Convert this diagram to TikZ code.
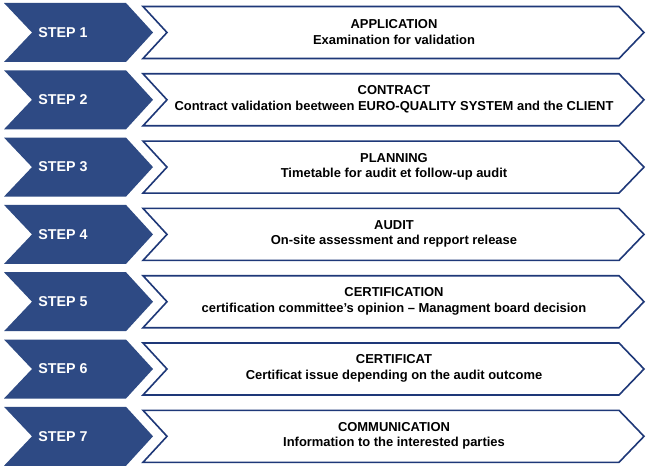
\documentclass[tikz,border=0pt]{standalone}
\usepackage{fontspec}
\setmainfont{Liberation Sans}
\definecolor{stepblue}{RGB}{46,74,132}
\definecolor{lineblue}{RGB}{30,56,120}
\tikzset{
  bluechev/.style={fill=stepblue,draw=none},
  whitechev/.style={fill=white,draw=lineblue,line width=1.6bp,line join=miter},
  steplabel/.style={text=white,font=\bfseries\fontsize{14.3}{16}\selectfont,inner sep=0},
  desc/.style={align=center,font=\bfseries\fontsize{13}{15.5}\selectfont,inner sep=0}
}
\begin{document}
\begin{tikzpicture}[x=1bp,y=-1bp]
\useasboundingbox (0,0) rectangle (650,468);
\fill[white] (0,0) rectangle (650,468);
\foreach \i/\t/\d in {
 0/APPLICATION/Examination for validation,
 1/CONTRACT/Contract validation beetween EURO-QUALITY SYSTEM and the CLIENT,
 2/PLANNING/Timetable for audit et follow-up audit,
 3/AUDIT/On-site assessment and repport release,
 4/CERTIFICATION/certification committee\char"27 s opinion -- Managment board decision,
 5/CERTIFICAT/Certificat issue depending on the audit outcome,
 6/COMMUNICATION/Information to the interested parties}{
 \pgfmathsetmacro{\dy}{67.3*\i}
 \begin{scope}[yshift=-\dy bp]
  \fill[bluechev] (4,3) -- (126,3) -- (153,32.5) -- (126,62) -- (4,62) -- (32,32.5) -- cycle;
  \draw[whitechev] (143,6.5) -- (619,6.5) -- (644,32.5) -- (619,58.5) -- (143,58.5) -- (167,32.5) -- cycle;
  \pgfmathtruncatemacro{\n}{\i+1}
  \node[steplabel] (s\n) at (63,32.5) {STEP \n};
  \node[desc] (d\n) at (394,32) {\t\\\d};
 \end{scope}
}
\end{tikzpicture}
\end{document}
